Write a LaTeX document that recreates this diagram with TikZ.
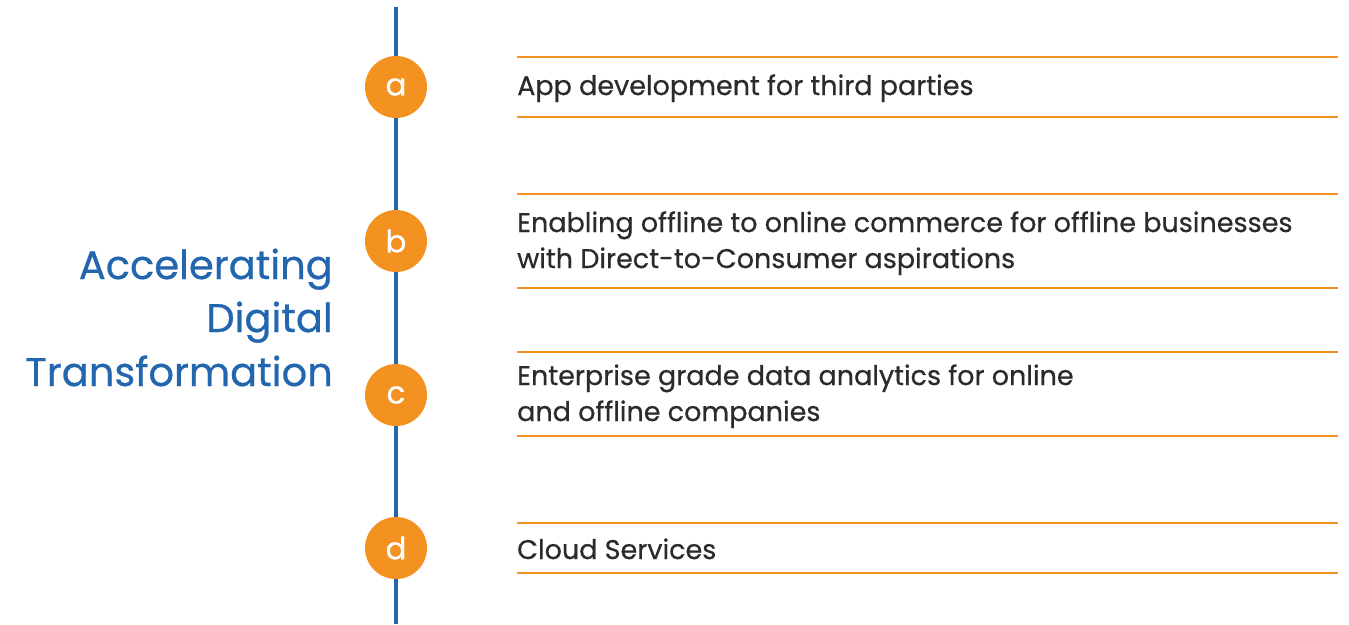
\documentclass[tikz,border=0pt]{standalone}
\usepackage{fontspec}
\setmainfont{Poppins}
\newfontfamily\medfont{Poppins}[FakeBold=0.6]
\definecolor{tblue}{HTML}{2166AE}
\definecolor{torange}{HTML}{F39220}
\definecolor{ttext}{HTML}{2B2B2B}
\begin{document}
\begin{tikzpicture}[x=1pt,y=-1pt,
  dot/.style={circle,fill=torange,minimum size=62pt,inner sep=0pt,text=white,font=\medfont\fontsize{31}{33}\selectfont},
  spine/.style={draw=tblue,line width=4pt},
  rule/.style={draw=torange,line width=1.5pt},
  item/.style={anchor=base west,inner sep=0pt,align=left,text=ttext,font=\medfont\fontsize{27}{36}\selectfont},
  title/.style={anchor=base east,inner sep=0pt,text=tblue,font=\medfont\fontsize{40}{54}\selectfont}]
\useasboundingbox (0,0) rectangle (1349,624);
\coordinate (top) at (396,7);
\coordinate (bot) at (396,624);
\node[dot] (a) at (396,87) {a};
\node[dot] (b) at (396,241) {b};
\node[dot] (c) at (396,395) {c};
\node[dot] (d) at (396,548) {d};
\draw[spine] (top) -- (a.north);
\draw[spine] (a.south) -- (b.north);
\draw[spine] (b.south) -- (c.north);
\draw[spine] (c.south) -- (d.north);
\draw[spine] (d.south) -- (bot);
% rules
\coordinate (a1l) at (517,57); \coordinate (a1r) at (1338,57);
\coordinate (a2l) at (517,117); \coordinate (a2r) at (1338,117);
\coordinate (b1l) at (517,194); \coordinate (b1r) at (1338,194);
\coordinate (b2l) at (517,288); \coordinate (b2r) at (1338,288);
\coordinate (c1l) at (517,352); \coordinate (c1r) at (1338,352);
\coordinate (c2l) at (517,436); \coordinate (c2r) at (1338,436);
\coordinate (d1l) at (517,523); \coordinate (d1r) at (1338,523);
\coordinate (d2l) at (517,573); \coordinate (d2r) at (1338,573);
\draw[rule] (a1l) -- (a1r); \draw[rule] (a2l) -- (a2r);
\draw[rule] (b1l) -- (b1r); \draw[rule] (b2l) -- (b2r);
\draw[rule] (c1l) -- (c1r); \draw[rule] (c2l) -- (c2r);
\draw[rule] (d1l) -- (d1r); \draw[rule] (d2l) -- (d2r);
\node[item] (ta) at (517,95) {App development for third parties};
\node[item] (tb) at (517,268) {Enabling offline to online commerce for offline businesses\\with Direct-to-Consumer aspirations};
\node[item] (tc) at (517,421) {Enterprise grade data analytics for online\\and offline companies};
\node[item] (td) at (517,559) {Cloud Services};
\node[title] (t1) at (333,279) {Accelerating};
\node[title] (t2) at (333,332) {Digital};
\node[title] (t3) at (333,386) {Transformation};
\end{tikzpicture}
\end{document}
